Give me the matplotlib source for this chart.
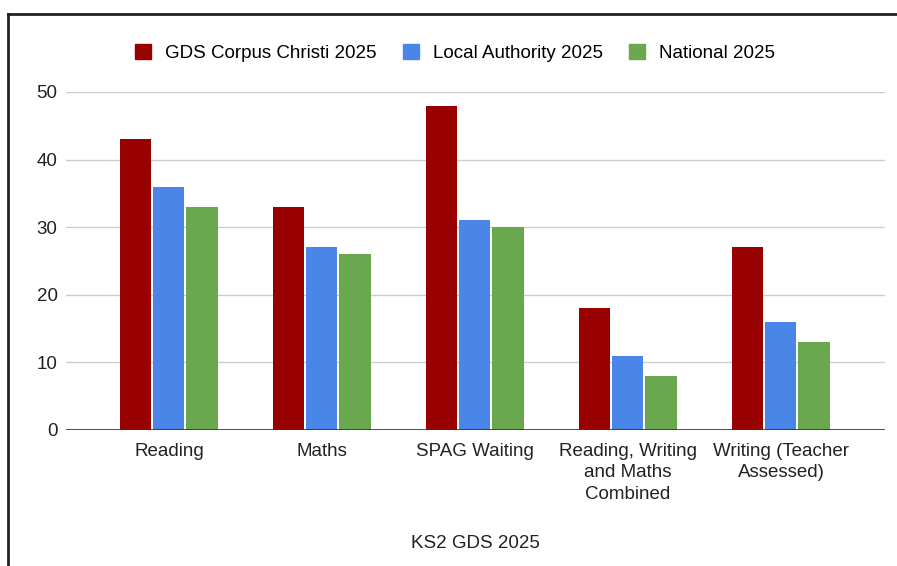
import numpy as np
import matplotlib
matplotlib.use("Agg")
import matplotlib.pyplot as plt
from matplotlib.lines import Line2D
from matplotlib.patches import Patch

plt.rcParams["font.family"] = ["Liberation Sans", "DejaVu Sans"]

categories = [
    "Reading",
    "Maths",
    "SPAG Waiting",
    "Reading, Writing\nand Maths\nCombined",
    "Writing (Teacher\nAssessed)",
]
series_names = ["GDS Corpus Christi 2025", "Local Authority 2025", "National 2025"]
school = [43, 33, 48, 18, 27]
local_authority = [36, 27, 31, 11, 16]
national = [33, 26, 30, 8, 13]
colors = ["#990000", "#4a86e8", "#6aa84f"]

FS = 13.5
TXT = "#222222"

fig = plt.figure(figsize=(8.97, 5.66), dpi=100)
ax = fig.add_axes([66 / 897, 136 / 566, 819 / 897, 338 / 566])

x = np.arange(len(categories))
width = 0.203
step = 0.216
for i, (vals, col) in enumerate(zip([school, local_authority, national], colors)):
    ax.bar(x + (i - 1) * step, vals, width, color=col, zorder=3)

ax.set_xlim(-0.673, 4.68)
ax.set_ylim(0, 50)
ax.set_yticks([0, 10, 20, 30, 40, 50])
ax.grid(axis="y", color="#cccccc", linewidth=1, zorder=0)
ax.axhline(0, color="#333333", linewidth=1.2, zorder=4)
for s in ax.spines.values():
    s.set_visible(False)
ax.set_xticks(x)
ax.set_xticklabels(categories, fontsize=FS, color=TXT, linespacing=1.35)
ax.tick_params(axis="both", length=0, labelsize=FS, colors=TXT)
ax.tick_params(axis="y", pad=6)
ax.tick_params(axis="x", pad=9)

handles = [Patch(facecolor=c, edgecolor=c) for c in colors]
fig.legend(handles, series_names, loc="center", bbox_to_anchor=(455 / 897, 1 - 53 / 566),
           ncol=3, frameon=False, fontsize=FS, handlelength=0.85, handleheight=0.85,
           columnspacing=1.4, handletextpad=0.75)

fig.text(475 / 897, 1 - 543 / 566, "KS2 GDS 2025", ha="center", va="center",
         fontsize=FS, color=TXT)

# frame border (top and left edges visible)
fig.add_artist(Line2D([8 / 897, 8 / 897], [1 - 14 / 566, 0], transform=fig.transFigure,
                      color="#222222", linewidth=2))
fig.add_artist(Line2D([8 / 897, 1], [1 - 14 / 566, 1 - 14 / 566], transform=fig.transFigure,
                      color="#222222", linewidth=2))

fig.savefig("out.png", dpi=100)
